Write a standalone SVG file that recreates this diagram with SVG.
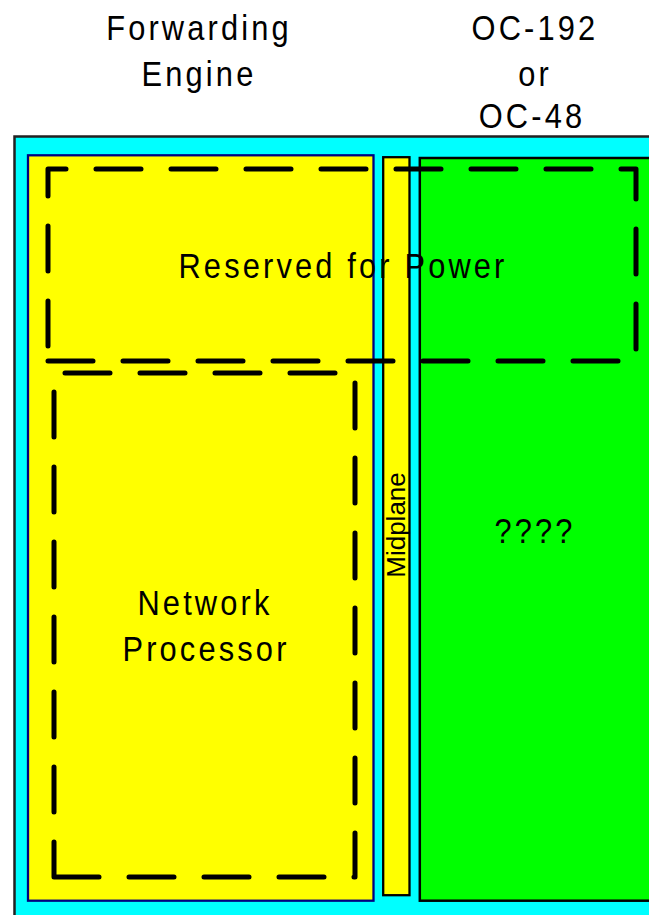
<svg xmlns="http://www.w3.org/2000/svg" width="649" height="915" viewBox="0 0 649 915">
<style>
  .lbl { font-family: "Liberation Sans", Arial, sans-serif; font-size: 35px; letter-spacing: 3.6px; fill: #000; text-anchor: middle; }
  .mid { font-family: "Liberation Sans", Arial, sans-serif; font-size: 26px; fill: #000; text-anchor: middle; }
  .dash { fill: none; stroke: #000; stroke-width: 5; stroke-dasharray: 45 30; stroke-linecap: round; stroke-linejoin: round; }
</style>
<rect x="0" y="0" width="649" height="915" fill="#FFFFFF"/>
<g id="chassis">
  <rect x="14.5" y="136.5" width="660" height="800" fill="#00FFFF" stroke="#222" stroke-width="2.5"/>
</g>
<g id="forwarding-engine">
  <rect x="28" y="155.3" width="345.5" height="745.4" fill="#FFFF00" stroke="#000080" stroke-width="2.3"/>
</g>
<g id="midplane">
  <rect x="383.2" y="157.2" width="26.3" height="738" fill="#FFFF00" stroke="#000" stroke-width="2.3"/>
  <text class="mid" transform="translate(404.5,525) rotate(-90)" x="0" y="0">Midplane</text>
</g>
<g id="oc-card">
  <rect x="419.8" y="158" width="260" height="742.7" fill="#00FF00" stroke="#000" stroke-width="2.5"/>
  <text class="lbl" transform="translate(535,543) scale(0.88,1)">????</text>
</g>
<g id="regions">
  <path id="reserved-for-power" class="dash" d="M48,361 H636 V169 H48 Z"/>
  <path id="network-processor" class="dash" d="M54,877 H355 V373 H54 Z"/>
</g>
<g id="labels">
  <text class="lbl" transform="translate(343,278) scale(0.88,1)">Reserved for Power</text>
  <text class="lbl" transform="translate(205,615) scale(0.88,1)">Network</text>
  <text class="lbl" transform="translate(206,661) scale(0.88,1)">Processor</text>
  <text class="lbl" transform="translate(199,40) scale(0.88,1)">Forwarding</text>
  <text class="lbl" transform="translate(199,86) scale(0.88,1)">Engine</text>
  <text class="lbl" transform="translate(535,40) scale(0.88,1)">OC-192</text>
  <text class="lbl" transform="translate(535,86) scale(0.88,1)">or</text>
  <text class="lbl" transform="translate(532,128) scale(0.88,1)">OC-48</text>
</g>
</svg>
